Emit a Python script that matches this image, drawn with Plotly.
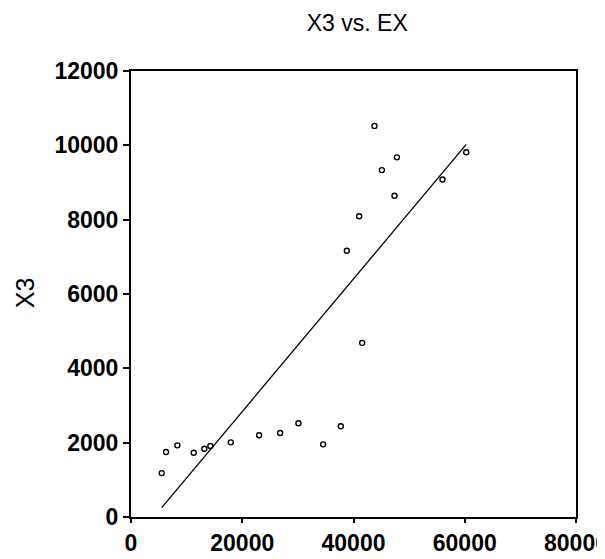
import numpy as np
import plotly.graph_objects as go

# Data (EX on x, X3 on y)
ex = [5520, 6300, 8330, 11280, 13190, 14270, 17930, 23030, 26810, 30100,
      34540, 37720, 41560, 38800, 41020, 43770, 45100, 47370, 47800, 56000, 60270]
x3 = [1181, 1749, 1928, 1730, 1838, 1911, 2009, 2198, 2262, 2522,
      1955, 2441, 4685, 7163, 8090, 10523, 9334, 8642, 9677, 9082, 9812]

x_ticks = [0, 20000, 40000, 60000, 80000]
y_ticks = [0, 2000, 4000, 6000, 8000, 10000, 12000]

# Least-squares fit line over the data range
slope, intercept = np.polyfit(ex, x3, 1)
fit_x = [min(ex), max(ex)]
fit_y = [intercept + slope * v for v in fit_x]

FONT = "Liberation Sans, Arial, sans-serif"

fig = go.Figure()
fig.add_trace(go.Scatter(
    x=ex, y=x3, mode="markers",
    marker=dict(symbol="circle-open", size=5, color="black", line=dict(width=1.4, color="black")),
    showlegend=False, hoverinfo="x+y", cliponaxis=False,
))
fig.add_trace(go.Scatter(
    x=fit_x, y=fit_y, mode="lines",
    line=dict(color="black", width=1.3),
    showlegend=False, hoverinfo="skip",
))

fig.update_layout(
    template="simple_white",
    width=597, height=551,
    margin=dict(l=123, r=29, t=63, b=42, autoexpand=False),
    paper_bgcolor="white", plot_bgcolor="white",
    title=dict(text="X3 vs. EX", x=0.585, xanchor="center", y=0.973, yanchor="middle",
               font=dict(family=FONT, size=23, color="black")),
    font=dict(family=FONT, color="black"),
    annotations=[dict(text="X3", xref="paper", yref="paper", x=-0.238, y=0.502,
                      xanchor="center", yanchor="middle", textangle=-90, showarrow=False,
                      font=dict(family=FONT, size=25, color="black"))],
)
fig.update_xaxes(
    range=[0, 80000], tickvals=x_ticks, ticktext=[str(v) for v in x_ticks],
    ticks="outside", ticklen=4, tickwidth=1.5, tickcolor="black",
    showline=True, linecolor="black", linewidth=2, mirror=True,
    showgrid=False, zeroline=False, automargin=False, ticklabeloverflow="allow",
    tickfont=dict(family=FONT, size=23, color="black", weight="bold"),
)
fig.update_yaxes(
    range=[0, 12000], tickvals=y_ticks, ticktext=[str(v) for v in y_ticks],
    ticks="outside", ticklen=6, tickwidth=1.5, tickcolor="black",
    showline=True, linecolor="black", linewidth=2, mirror=True,
    showgrid=False, zeroline=False, automargin=False,
    tickfont=dict(family=FONT, size=23, color="black", weight="bold"),
)

fig.write_html("out.html")
